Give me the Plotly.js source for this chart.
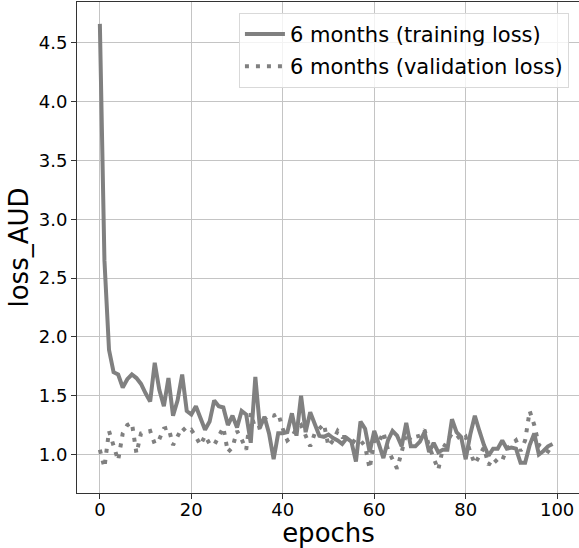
<!DOCTYPE html>
<html>
<head>
<meta charset="utf-8">
<script src="https://cdn.plot.ly/plotly-3.0.1.min.js"></script>
<style>
html,body{margin:0;padding:0;overflow:hidden;background:#fff;}
#chart{width:580px;height:548px;}
</style>
</head>
<body>
<div id="chart"></div>
<script>
// epochs 0..99
const epochs = Array.from({length: 100}, (_, i) => i);

const trainingLoss = [
  4.66, 2.65, 1.89, 1.70, 1.68, 1.57, 1.64, 1.68, 1.65, 1.60,
  1.52, 1.45, 1.78, 1.55, 1.41, 1.65, 1.33, 1.46, 1.68, 1.37,
  1.34, 1.41, 1.31, 1.21, 1.28, 1.46, 1.41, 1.40, 1.25, 1.33,
  1.23, 1.37, 1.34, 1.10, 1.66, 1.23, 1.32, 1.18, 0.96, 1.18,
  1.18, 1.19, 1.35, 1.16, 1.50, 1.19, 1.36, 1.25, 1.16, 1.15,
  1.17, 1.14, 1.12, 1.09, 1.14, 1.11, 0.94, 1.28, 1.22, 1.02,
  1.20, 1.09, 0.97, 1.12, 1.20, 1.16, 1.07, 1.27, 1.07, 1.07,
  1.11, 1.19, 1.02, 1.10, 1.02, 1.04, 1.04, 1.30, 1.19, 1.15,
  0.96, 1.17, 1.33, 1.20, 1.08, 0.99, 1.05, 1.05, 1.12, 1.05,
  1.06, 1.05, 0.93, 0.93, 1.08, 1.18, 1.00, 1.03, 1.07, 1.09
];

const validationLoss = [
  1.04, 0.89, 1.20, 1.07, 0.95, 1.18, 1.25, 1.27, 1.01, 1.18,
  1.19, 1.20, 1.09, 1.13, 1.22, 1.23, 1.08, 1.15, 1.23, 1.19,
  1.21, 1.15, 1.08, 1.16, 1.09, 1.08, 1.16, 1.23, 1.02, 1.06,
  1.20, 1.13, 1.04, 1.35, 1.22, 1.23, 1.30, 1.34, 1.33, 1.35,
  1.22, 1.12, 1.15, 1.22, 1.25, 1.16, 1.07, 1.18, 1.22, 1.26,
  1.07, 1.12, 1.20, 1.15, 1.15, 1.12, 1.10, 1.12, 1.07, 0.88,
  1.12, 1.10, 1.19, 1.04, 0.96, 0.88, 1.02, 1.18, 1.12, 1.15,
  1.16, 1.21, 1.07, 0.96, 0.87, 1.05, 1.12, 1.18, 1.17, 1.12,
  1.15, 1.02, 0.92, 0.99, 1.06, 0.91, 0.97, 0.93, 0.95, 1.05,
  1.08, 1.12, 1.03, 1.12, 1.37, 1.25, 1.08, 1.05, 1.03, 1.00
];

const seriesNames = ["6 months (training loss)", "6 months (validation loss)"];
const xTicks = [0, 20, 40, 60, 80, 100];
const yTicks = [1.0, 1.5, 2.0, 2.5, 3.0, 3.5, 4.0, 4.5];
const yTickText = ["1.0", "1.5", "2.0", "2.5", "3.0", "3.5", "4.0", "4.5"];

const font = "DejaVu Sans, sans-serif";

const traces = [
  {
    x: epochs, y: trainingLoss, type: "scatter", mode: "lines",
    name: seriesNames[0], legendgroup: "a",
    line: {color: "#808080", width: 4}
  },
  {
    x: epochs, y: validationLoss, type: "scatter", mode: "lines",
    name: seriesNames[1], legendgroup: "b",
    line: {color: "#808080", width: 4, dash: "4px,7px"}
  }
];

const layout = {
  width: 580, height: 548,
  margin: {l: 77, r: 0, t: 2, b: 55, pad: 0},
  paper_bgcolor: "#fff", plot_bgcolor: "#fff",
  font: {family: font, color: "#000", size: 18},
  showlegend: true,
  legend: {
    x: 0.978, y: 0.978, xanchor: "right", yanchor: "top",
    bgcolor: "rgba(255,255,255,0.8)", bordercolor: "#d9d9d9", borderwidth: 1,
    font: {family: font, size: 21, color: "#000"},
    tracegroupgap: 2, itemwidth: 40
  },
  xaxis: {
    range: [-5, 105],
    tickvals: xTicks, ticktext: xTicks.map(String),
    showgrid: true, gridcolor: "#c4c4c4", gridwidth: 1,
    zeroline: false,
    showline: true, linecolor: "#333", linewidth: 1, mirror: true,
    ticks: "outside", ticklen: 5, tickcolor: "#333", tickwidth: 1,
    ticklabelstandoff: -5,
    tickfont: {family: font, size: 18, color: "#000"},
    title: {text: "epochs", font: {family: font, size: 26, color: "#000"}, standoff: 4}
  },
  yaxis: {
    range: [0.673, 4.846],
    tickvals: yTicks, ticktext: yTickText,
    showgrid: true, gridcolor: "#c4c4c4", gridwidth: 1,
    zeroline: false,
    showline: true, linecolor: "#333", linewidth: 1,
    ticks: "outside", ticklen: 5, tickcolor: "#333", tickwidth: 1,
    tickfont: {family: font, size: 18, color: "#000"},
    title: {text: "loss_AUD", font: {family: font, size: 26, color: "#000"}, standoff: 2}
  }
};

Plotly.newPlot("chart", traces, layout, {staticPlot: true, displayModeBar: false});
</script>
</body>
</html>
